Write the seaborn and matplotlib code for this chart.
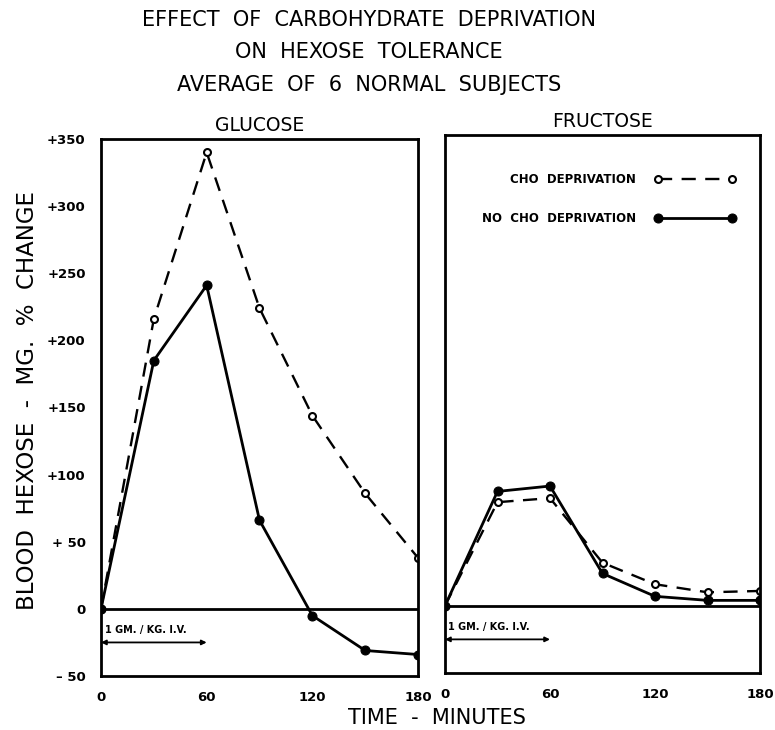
import numpy as np
import pandas as pd
import seaborn as sns
import matplotlib.pyplot as plt

# minutes after injection
time = [0, 30, 60, 90, 120, 150, 180]

# blood hexose, mg. % change
glucose_cho = [0, 216, 340, 224, 144, 86, 38]
glucose_nocho = [0, 185, 241, 66, -5, -31, -34]
fructose_cho = [0, 77, 80, 32, 16, 10, 11]
fructose_nocho = [0, 85, 89, 24, 7, 4, 4]

yticks = [-50, 0, 50, 100, 150, 200, 250, 300, 350]
ytick_labels = ["\u2013 50", "0", "+ 50", "+100", "+150", "+200", "+250", "+300", "+350"]
xticks = [0, 60, 120, 180]

sns.set_style("white")
plt.rcParams['font.family'] = ['DejaVu Sans']
plt.rcParams['text.color'] = 'black'
plt.rcParams['xtick.color'] = 'black'
plt.rcParams['ytick.color'] = 'black'

fig = plt.figure(figsize=(7.75, 7.3), dpi=100)
ax1 = fig.add_axes([101 / 775, 54 / 730, 317 / 775, 537 / 730])
ax2 = fig.add_axes([445 / 775, 57 / 730, 315 / 775, 538 / 730])

panels = [
    (ax1, "GLUCOSE", glucose_cho, glucose_nocho),
    (ax2, "FRUCTOSE", fructose_cho, fructose_nocho),
]

for ax, name, cho, nocho in panels:
    df = pd.DataFrame({"time": time, "cho": cho, "nocho": nocho})
    sns.lineplot(data=df, x="time", y="cho", ax=ax, color="black", lw=1.7,
                 linestyle=(0, (6, 4)), marker="o", markersize=5,
                 markerfacecolor="white", markeredgecolor="black",
                 markeredgewidth=1.5, label="CHO  DEPRIVATION")
    sns.lineplot(data=df, x="time", y="nocho", ax=ax, color="black", lw=2,
                 marker="o", markersize=6.5, markerfacecolor="black",
                 markeredgecolor="black", label="NO  CHO  DEPRIVATION")
    ax.axhline(0, color="black", lw=2, zorder=1)
    ax.set_xlim(0, 180)
    ax.set_ylim(-50, 350)
    ax.set_xticks(xticks)
    ax.set_xticklabels([str(t) for t in xticks], fontsize=9.5, fontweight="bold")
    ax.set_yticks(yticks)
    ax.tick_params(direction="inout", length=10, width=1.5, color="black", pad=6)
    ax.set_xlabel("")
    ax.set_ylabel("")
    for sp in ax.spines.values():
        sp.set_color("black")
        sp.set_linewidth(2)
    ax.set_title(name, fontsize=13.5, pad=6)
    # infusion period
    ax.annotate("", xy=(0, -25), xytext=(60, -25),
                arrowprops=dict(arrowstyle="<|-|>", color="black", lw=1.3,
                                mutation_scale=7, shrinkA=0, shrinkB=0))
    ax.text(2, -16, "1 GM. / KG. I.V.", fontsize=7, fontweight="bold",
            ha="left", va="center")

ax1.set_yticklabels(ytick_labels, fontsize=9.5, fontweight="bold")
ax1.get_legend().remove()
ax2.set_yticklabels([])

leg = ax2.legend(loc="upper right", bbox_to_anchor=(0.94, 0.94), frameon=False,
                 markerfirst=False, numpoints=2, handlelength=6.8,
                 labelspacing=2.2, borderpad=0, handletextpad=1.6,
                 prop={"size": 8.5, "weight": "bold"})

cx = 369 / 775
fig.text(cx, 1 - 20 / 730, "EFFECT  OF  CARBOHYDRATE  DEPRIVATION",
         ha="center", va="center", fontsize=15)
fig.text(cx, 1 - 52 / 730, "ON  HEXOSE  TOLERANCE",
         ha="center", va="center", fontsize=15)
fig.text(cx, 1 - 85 / 730, "AVERAGE  OF  6  NORMAL  SUBJECTS",
         ha="center", va="center", fontsize=15)
fig.text(28 / 775, 1 - 400 / 730, "BLOOD  HEXOSE  -  MG.  %  CHANGE",
         ha="center", va="center", rotation=90, fontsize=16.5)
fig.text(437 / 775, 1 - 718 / 730, "TIME  -  MINUTES",
         ha="center", va="center", fontsize=15)

fig.savefig("out.png", dpi=100)
